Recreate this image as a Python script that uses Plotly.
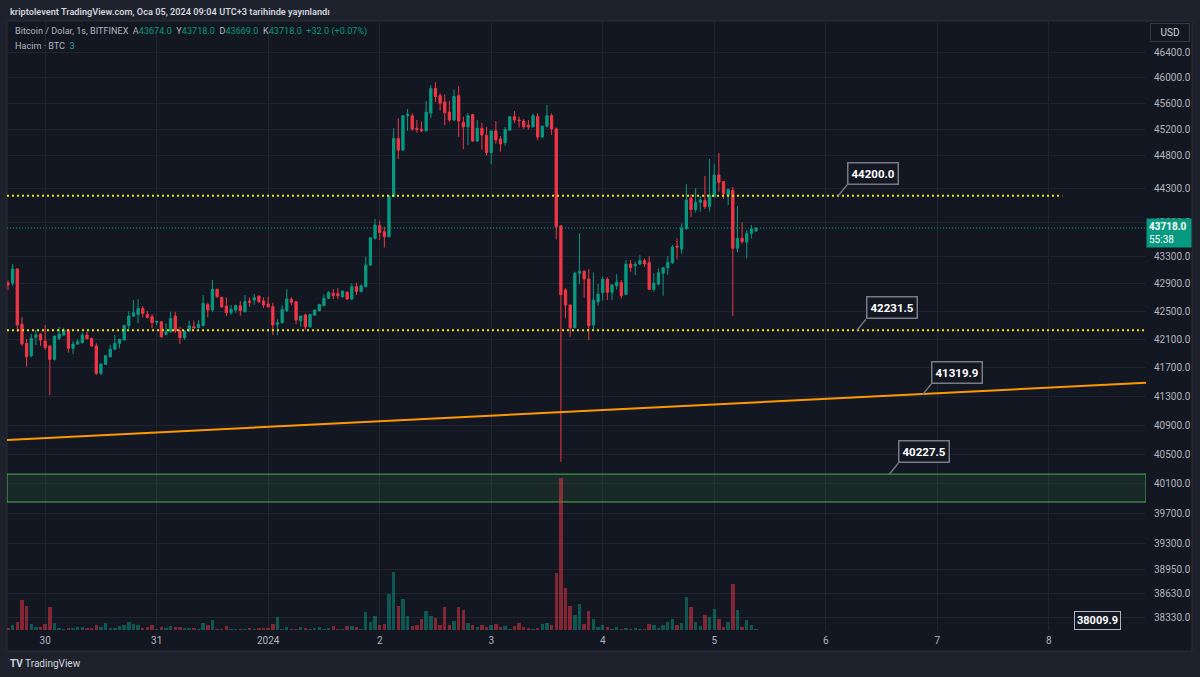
import math
import pandas as pd
import plotly.graph_objects as go

# ---------------- data (hourly candles, BITFINEX BTC/USD) ----------------
start_time = "2023-12-29 16:00"
opens = [42915, 42910, 43117, 42320, 42047, 41871, 42132, 42179, 42080, 42009,
         41820, 42118, 42165, 42236, 41976, 42037, 42056, 42165, 42118, 42009,
         41623, 41749, 41857, 41962, 42047, 42094, 42300, 42436, 42460, 42545,
         42460, 42427, 42350, 42355, 42175, 42212, 42436, 42226, 42127, 42222,
         42284, 42270, 42299, 42600, 42523, 42822, 42706, 42580, 42488, 42523,
         42585, 42498, 42653, 42667, 42725, 42653, 42609, 42570, 42318, 42341,
         42513, 42677, 42643, 42370, 42450, 42284, 42450, 42513, 42585, 42691,
         42765, 42760, 42715, 42780, 42681, 42860, 42789, 42860, 43175, 43566,
         43752, 43663, 43590, 44185, 45064, 44886, 45410, 45410, 45218, 45200,
         45180, 45451, 45830, 45720, 45622, 45467, 45345, 45718, 45310, 45240,
         45430, 45024, 45218, 45110, 44850, 45178, 45054, 45000, 45190, 45395,
         45345, 45330, 45266, 45240, 45395, 45087, 45250, 45410, 45208, 43750,
         42812, 42595, 42270, 43054, 43085, 42972, 42308, 42643, 42774, 42967,
         42780, 42875, 42918, 42750, 43190, 43165, 43190, 43238, 43209, 42822,
         42895, 43054, 43136, 43209, 43450, 43410, 43712, 44160, 43994, 44100,
         44125, 44040, 44185, 44510, 44410, 44210, 44280, 43420, 43566, 43510,
         43640, 43674]
highs = [42950, 43190, 43125, 42420, 42108, 42179, 42236, 42185, 42308, 42020,
         42155, 42284, 42270, 42245, 42080, 42110, 42198, 42212, 42125, 42047,
         41760, 41880, 42023, 42165, 42110, 42308, 42507, 42667, 42677, 42578,
         42507, 42464, 42365, 42360, 42332, 42498, 42498, 42284, 42230, 42370,
         42370, 42380, 42739, 42628, 42957, 42830, 42715, 42706, 42595, 42605,
         42653, 42739, 42706, 42755, 42730, 42706, 42715, 42628, 42390, 42595,
         42822, 42706, 42650, 42436, 42474, 42465, 42530, 42610, 42750, 42795,
         42827, 42840, 42800, 42790, 42909, 42918, 42890, 43296, 43580, 43852,
         43827, 43737, 44200, 45218, 45370, 45420, 45513, 45447, 45345, 45320,
         45638, 45878, 45929, 45760, 45740, 45638, 45814, 45866, 45400, 45451,
         45440, 45345, 45300, 45240, 45185, 45330, 45100, 45240, 45400, 45483,
         45395, 45360, 45345, 45440, 45447, 45260, 45574, 45447, 45230, 43760,
         42836, 42600, 43077, 43640, 43095, 43117, 43063, 42900, 43005, 42996,
         42895, 43040, 42957, 43248, 43248, 43223, 43320, 43270, 43306, 43054,
         43127, 43140, 43306, 43470, 43565, 43788, 44375, 44220, 44310, 44195,
         44495, 44750, 44680, 44840, 44420, 44310, 44330, 44045, 43800, 43690,
         43763, 43718]
lows = [42810, 42870, 42210, 42010, 41716, 41849, 42023, 42009, 41953, 41317,
        41800, 42094, 42150, 41914, 41891, 42030, 42047, 42104, 42000, 41599,
        41599, 41740, 41849, 41953, 41976, 42090, 42251, 42430, 42332, 42418,
        42400, 42262, 42300, 42130, 42160, 42198, 42190, 42037, 42100, 42212,
        42260, 42260, 42290, 42418, 42498, 42700, 42555, 42436, 42455, 42483,
        42441, 42490, 42570, 42595, 42620, 42555, 42560, 42165, 42165, 42332,
        42498, 42590, 42318, 42284, 42246, 42270, 42440, 42500, 42580, 42685,
        42681, 42681, 42700, 42670, 42667, 42739, 42780, 42850, 43165, 43550,
        43542, 43430, 43580, 44180, 44750, 44880, 45180, 45180, 45150, 45160,
        45170, 45370, 45620, 45494, 45266, 45320, 45330, 45087, 44900, 44960,
        45010, 45010, 44890, 44808, 44670, 44980, 44860, 44950, 45180, 45300,
        45230, 45210, 45200, 45230, 45039, 45070, 45230, 45117, 43555, 40394,
        42403, 42141, 42260, 42895, 42700, 42094, 42246, 42585, 42657, 42667,
        42667, 42820, 42691, 42740, 43077, 43030, 43175, 43150, 42812, 42788,
        42880, 42730, 43030, 43190, 43260, 43340, 43690, 43880, 43950, 43960,
        44000, 43965, 44180, 44260, 44150, 44060, 42436, 43360, 43490, 43270,
        43566, 43669]
closes = [42885, 43117, 42310, 42040, 41857, 42118, 42165, 42094, 41985, 41820,
          42150, 42179, 42236, 41976, 42037, 42070, 42165, 42113, 42009, 41623,
          41753, 41871, 41962, 42047, 42104, 42300, 42436, 42483, 42545, 42474,
          42418, 42341, 42360, 42141, 42210, 42403, 42226, 42127, 42222, 42294,
          42265, 42317, 42619, 42523, 42822, 42715, 42570, 42483, 42532, 42585,
          42513, 42643, 42634, 42700, 42643, 42595, 42570, 42308, 42341, 42532,
          42681, 42634, 42379, 42436, 42284, 42460, 42523, 42605, 42691, 42774,
          42730, 42730, 42797, 42681, 42860, 42789, 42874, 43175, 43575, 43763,
          43654, 43590, 44194, 45064, 44886, 45410, 45430, 45208, 45200, 45180,
          45467, 45830, 45707, 45601, 45457, 45345, 45707, 45330, 45240, 45410,
          45024, 45218, 45117, 44850, 45178, 45039, 44980, 45200, 45395, 45345,
          45335, 45240, 45240, 45410, 45087, 45250, 45410, 45208, 43735, 42745,
          42595, 42270, 43054, 43085, 42972, 42299, 42667, 42753, 42967, 42780,
          42885, 42925, 42730, 43185, 43136, 43185, 43238, 43190, 42822, 42909,
          43063, 43136, 43214, 43436, 43440, 43722, 44135, 43994, 44100, 44135,
          44035, 44210, 44510, 44400, 44230, 44290, 43420, 43566, 43520, 43640,
          43705, 43718]
volumes = [5, 15, 23, 90, 72, 18, 9, 9, 18, 69,
           21, 7, 4, 7, 7, 9, 9, 7, 7, 14,
           9, 21, 7, 7, 12, 14, 23, 18, 16, 7,
           9, 14, 4, 9, 7, 12, 9, 9, 7, 7,
           7, 3, 21, 15, 30, 4, 4, 12, 4, 4,
           4, 4, 7, 4, 5, 5, 5, 17, 39, 4,
           9, 4, 4, 9, 7, 4, 7, 9, 4, 7,
           11, 4, 4, 11, 11, 9, 4, 54, 23, 43,
           14, 18, 108, 174, 72, 92, 41, 11, 14, 33,
           57, 41, 36, 14, 69, 14, 27, 69, 60, 21,
           16, 9, 16, 9, 16, 18, 9, 12, 4, 11,
           21, 9, 6, 4, 6, 18, 20, 16, 171, 456,
           126, 71, 46, 77, 18, 57, 32, 9, 16, 9,
           4, 9, 4, 6, 4, 6, 4, 4, 18, 16,
           6, 16, 23, 33, 16, 21, 99, 69, 25, 12,
           45, 39, 62, 32, 9, 23, 137, 60, 9, 30,
           14, 3]

price_ticks = [38330, 38630, 38950, 39300, 39700, 40100, 40500, 40900, 41300,
               41700, 42100, 42500, 42900, 43300, 43800, 44300, 44800, 45200,
               45600, 46000, 46400]
day_ticks = ["2023-12-30", "2023-12-31", "2024-01-01", "2024-01-02", "2024-01-03",
             "2024-01-04", "2024-01-05", "2024-01-06", "2024-01-07", "2024-01-08"]
day_labels = ["30", "31", "2024", "2", "3", "4", "5", "6", "7", "8"]

x_view = ["2023-12-29 15:47", "2024-01-08 20:56"]
price_view = [38162, 46889]

resistance_level = 44200.0
resistance_end = "2024-01-08 02:55"
support_level = 42231.5
trend_times = ["2023-12-29 15:47", "2024-01-08 20:56"]
trend_prices = [40694, 41489]
zone_low, zone_high = 39850, 40227.5
last_price = 43718.0

callout_texts = ["44200.0", "42231.5", "41319.9", "40227.5"]
callout_prices = [44200.0, 42231.5, 41319.9, 40227.5]
callout_times = ["2024-01-06 02:42", "2024-01-06 06:42", "2024-01-06 20:48", "2024-01-06 13:42"]

# ---------------- styling ----------------
UP = "#089981"
DOWN = "#f23645"
UP_VOL = "rgba(8,153,129,0.5)"
DOWN_VOL = "rgba(242,54,69,0.5)"
FRAME = "#1e222d"
PANE = "#131722"
GRID = "#1f2430"
TXT = "#b2b5be"
FONT = "Roboto"

times = pd.date_range(start_time, periods=len(opens), freq="h")
vol_colors = [UP_VOL if c >= o else DOWN_VOL for o, c in zip(opens, closes)]

fig = go.Figure()

fig.add_trace(go.Candlestick(
    x=times, open=opens, high=highs, low=lows, close=closes,
    increasing=dict(line=dict(color=UP, width=1), fillcolor=UP),
    decreasing=dict(line=dict(color=DOWN, width=1), fillcolor=DOWN),
    whiskerwidth=0, hoverinfo="skip", yaxis="y"))

fig.add_trace(go.Bar(x=times, y=volumes, marker=dict(color=vol_colors, line=dict(width=0)),
                     width=0.74 * 3600000, yaxis="y2", hoverinfo="skip"))

# horizontal levels / trend line as traces on the log price axis
fig.add_trace(go.Scatter(x=[x_view[0], resistance_end], y=[resistance_level] * 2, mode="lines",
                         line=dict(color="#f5e21b", width=2, dash="2px,3px"), hoverinfo="skip"))
fig.add_trace(go.Scatter(x=x_view, y=[support_level] * 2, mode="lines",
                         line=dict(color="#f5e21b", width=2, dash="2px,3px"), hoverinfo="skip"))
fig.add_trace(go.Scatter(x=x_view, y=[last_price] * 2, mode="lines",
                         line=dict(color=UP, width=1, dash="1px,2px"), hoverinfo="skip"))
fig.add_trace(go.Scatter(x=trend_times, y=trend_prices, mode="lines",
                         line=dict(color="#ff9800", width=2), hoverinfo="skip"))
# zone
fig.add_trace(go.Scatter(x=[x_view[0], x_view[1], x_view[1], x_view[0], x_view[0]],
                         y=[zone_low, zone_low, zone_high, zone_high, zone_low],
                         mode="lines", fill="toself", fillcolor="rgba(76,175,80,0.12)",
                         line=dict(color="#4caf50", width=1), hoverinfo="skip"))

# pane background + borders (paper coords)
W_PLOT = 1139.0
H_PLOT = 609.0
def px_x(p):
    return (p - 7) / W_PLOT
def px_y(p):
    return (630 - p) / H_PLOT

shapes = [
    dict(type="rect", xref="paper", yref="paper", x0=px_x(7), x1=px_x(1192), y0=px_y(651), y1=px_y(21),
         fillcolor=PANE, line=dict(color="#2a2e39", width=1), layer="below"),
]

annotations = []
for txt, pr, tm in zip(callout_texts, callout_prices, callout_times):
    annotations.append(dict(
        x=tm, y=math.log10(pr), xref="x", yref="y", text="<b>" + txt + "</b>",
        showarrow=True, arrowhead=0, arrowwidth=1.5, arrowcolor="#787b86",
        ax=9, ay=-11, xanchor="left", yanchor="bottom",
        font=dict(color="#ffffff", size=11.5, family=FONT),
        bgcolor=PANE, bordercolor="#787b86", borderwidth=1.5, borderpad=3))

annotations += [
    dict(xref="paper", yref="paper", x=px_x(8), y=px_y(11), xanchor="left", yanchor="middle",
         text="kriptolevent TradingView.com, Oca 05, 2024 09:04 UTC+3 tarihinde yayınlandı",
         showarrow=False, font=dict(color="#d1d4dc", size=9.2, family=FONT, weight=600)),
    dict(xref="paper", yref="paper", x=px_x(13), y=px_y(32), xanchor="left", yanchor="middle",
         text=("Bitcoin / Dolar, 1s, BITFINEX\u00a0\u00a0A<span style='color:#089981'>43674.0</span>"
               "\u00a0\u00a0Y<span style='color:#089981'>43718.0</span>"
               "\u00a0\u00a0D<span style='color:#089981'>43669.0</span>"
               "\u00a0\u00a0K<span style='color:#089981'>43718.0</span>"
               "\u00a0\u00a0<span style='color:#089981'>+32.0 (+0.07%)</span>"),
         showarrow=False, font=dict(color=TXT, size=9.1, family=FONT)),
    dict(xref="paper", yref="paper", x=px_x(13), y=px_y(46), xanchor="left", yanchor="middle",
         text="Hacim · BTC\u00a0\u00a0<span style='color:#26a69a'>3</span>",
         showarrow=False, font=dict(color=TXT, size=9.1, family=FONT)),
    dict(xref="paper", yref="paper", x=px_x(1170), y=px_y(33), xanchor="center", yanchor="middle",
         text="USD", showarrow=False, font=dict(color="#d1d4dc", size=10, family=FONT),
         bgcolor=PANE, bordercolor="#363a45", borderwidth=1, borderpad=3, width=32),
    dict(xref="paper", yref="paper", x=px_x(1146), y=px_y(233.5), xanchor="left", yanchor="middle",
         text="<b>43718.0</b><br>55:38", showarrow=False, align="left",
         font=dict(color="#ffffff", size=10, family=FONT),
         bgcolor=UP, borderpad=2, width=40),
    dict(xref="paper", yref="paper", x=px_x(1097), y=px_y(620), xanchor="center", yanchor="middle",
         text="<b>38009.9</b>", showarrow=False,
         font=dict(color="#ffffff", size=11, family=FONT),
         bgcolor=PANE, bordercolor="#b2b5be", borderwidth=1, borderpad=2),
    dict(xref="paper", yref="paper", x=px_x(8), y=px_y(663), xanchor="left", yanchor="middle",
         text="<b>TV</b> TradingView", showarrow=False,
         font=dict(color="#d1d4dc", size=10, family=FONT)),
]

fig.update_layout(
    width=1200, height=677,
    margin=dict(l=7, r=54, t=21, b=47),
    paper_bgcolor=FRAME, plot_bgcolor=PANE,
    showlegend=False,
    xaxis=dict(type="date", range=x_view, tickvals=day_ticks, ticktext=day_labels,
               showgrid=True, gridcolor=GRID, gridwidth=1, zeroline=False,
               rangeslider=dict(visible=False), ticks="", showline=False,
               tickfont=dict(color=TXT, size=10, family=FONT), ticklabelstandoff=3),
    yaxis=dict(type="log", side="right", range=[math.log10(price_view[0]), math.log10(price_view[1])],
               tickvals=price_ticks, ticktext=[f"{v:.1f}" for v in price_ticks],
               showgrid=True, gridcolor=GRID, gridwidth=1, zeroline=False, ticks="",
               showline=False, tickfont=dict(color=TXT, size=10, family=FONT),
               ticklabelstandoff=7),
    yaxis2=dict(overlaying="y", range=[0, 1827], visible=False, fixedrange=True),
    shapes=shapes,
    annotations=annotations,
    bargap=0,
)

fig.write_html("out.html", post_script="document.body.style.margin='0';")
